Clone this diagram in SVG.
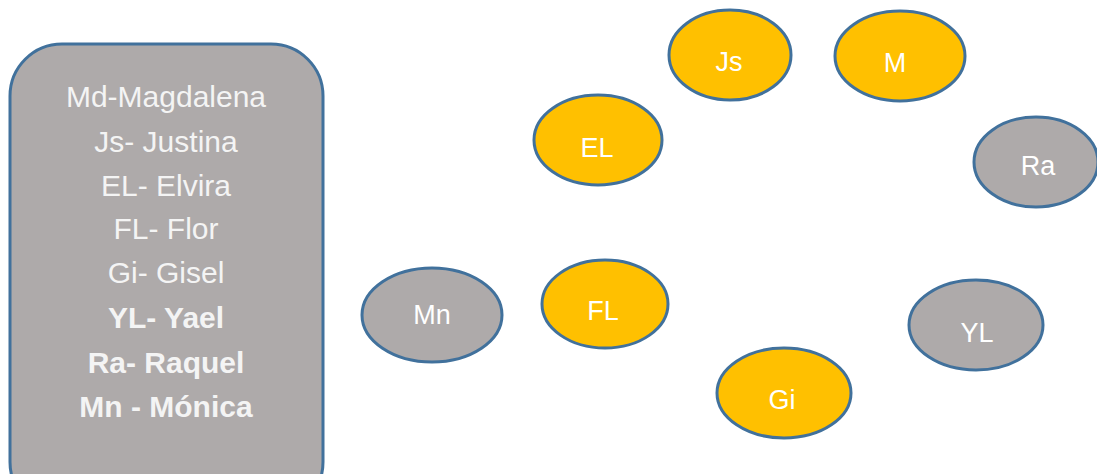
<svg xmlns="http://www.w3.org/2000/svg" width="1097" height="474" viewBox="0 0 1097 474">
  <style>
    .legend { fill: #AEAAAA; stroke: #41719C; stroke-width: 3; }
    .lt { font-family: "Liberation Sans", Arial, sans-serif; font-size: 30px; fill: #F4F4F4; text-anchor: middle; }
    .b { font-weight: bold; }
    .gold { fill: #FFC000; stroke: #41719C; stroke-width: 3; }
    .grey { fill: #AEAAAA; stroke: #41719C; stroke-width: 3; }
    .nt { font-family: "Liberation Sans", Arial, sans-serif; font-size: 27px; fill: #FFFFFF; text-anchor: middle; }
  </style>
  <rect width="1097" height="474" fill="#FFFFFF"/>
  <g id="legend">
    <rect class="legend" x="10" y="44" width="313" height="470" rx="52" ry="52"/>
    <text class="lt" x="166" y="107">Md-Magdalena</text>
    <text class="lt" x="166" y="152">Js- Justina</text>
    <text class="lt" x="166" y="196">EL- Elvira</text>
    <text class="lt" x="166" y="239">FL- Flor</text>
    <text class="lt" x="166" y="283">Gi- Gisel</text>
    <text class="lt b" x="166" y="328">YL- Yael</text>
    <text class="lt b" x="166" y="373">Ra- Raquel</text>
    <text class="lt b" x="166" y="417">Mn - Mónica</text>
  </g>
  <g id="connectors"></g>
  <g id="node-Js">
    <ellipse class="gold" cx="730" cy="55" rx="61" ry="45"/>
    <text class="nt" x="729" y="71">Js</text>
  </g>
  <g id="node-M">
    <ellipse class="gold" cx="900" cy="56" rx="65" ry="45"/>
    <text class="nt" x="895" y="72">M</text>
  </g>
  <g id="node-EL">
    <ellipse class="gold" cx="598" cy="140" rx="64" ry="45"/>
    <text class="nt" x="597" y="157">EL</text>
  </g>
  <g id="node-Ra">
    <ellipse class="grey" cx="1036" cy="162" rx="62" ry="45"/>
    <text class="nt" x="1038" y="175">Ra</text>
  </g>
  <g id="node-Mn">
    <ellipse class="grey" cx="432" cy="315" rx="70" ry="47"/>
    <text class="nt" x="432" y="324">Mn</text>
  </g>
  <g id="node-FL">
    <ellipse class="gold" cx="605" cy="304" rx="63" ry="44"/>
    <text class="nt" x="603" y="320">FL</text>
  </g>
  <g id="node-YL">
    <ellipse class="grey" cx="976" cy="325" rx="67" ry="45"/>
    <text class="nt" x="977" y="342">YL</text>
  </g>
  <g id="node-Gi">
    <ellipse class="gold" cx="784" cy="393" rx="67" ry="45"/>
    <text class="nt" x="782" y="409">Gi</text>
  </g>
</svg>
